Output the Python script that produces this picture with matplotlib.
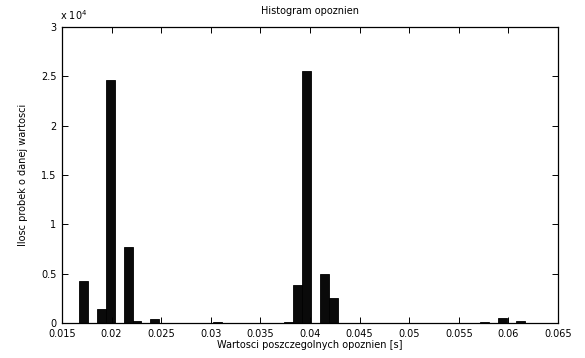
import matplotlib
matplotlib.use("Agg")
import matplotlib.pyplot as plt
from matplotlib.ticker import FuncFormatter

# Histogram of measured delays: 50 equal bins between the smallest and largest delay
bin_lo = 0.016714
bin_hi = 0.061639
counts = [4280, 0, 1420, 24650, 0, 7750, 180, 0, 370, 0,
          0, 0, 0, 0, 0, 100, 0, 40, 0, 0,
          0, 0, 0, 130, 3820, 25550, 0, 4970, 2500, 0,
          0, 0, 0, 40, 0, 0, 0, 0, 0, 0,
          0, 0, 0, 0, 0, 50, 0, 480, 0, 170]

x_ticks = [0.015, 0.02, 0.025, 0.03, 0.035, 0.04, 0.045, 0.05, 0.055, 0.06, 0.065]
x_tick_labels = ["0.015", "0.02", "0.025", "0.03", "0.035", "0.04",
                 "0.045", "0.05", "0.055", "0.06", "0.065"]
y_ticks = [0, 5000, 10000, 15000, 20000, 25000, 30000]

title = "Histogram opoznien"
x_label = "Wartosci poszczegolnych opoznien [s]"
y_label = "Ilosc probek o danej wartosci"

plt.rcParams["font.family"] = ["DejaVu Sans"]
fs = 7

fig = plt.figure(figsize=(5.85, 3.58), dpi=100)
ax = fig.add_axes([0.106, 0.0978, 0.848, 0.8268])

n = len(counts)
width = (bin_hi - bin_lo) / n
lefts = [bin_lo + i * width for i in range(n)]
ax.bar(lefts, counts, width=width, align="edge",
       color="#0a0a0a", edgecolor="#000000", linewidth=0.6)

ax.set_xlim(0.015, 0.065)
ax.set_ylim(0, 30000)
ax.set_xticks(x_ticks)
ax.set_xticklabels(x_tick_labels)
ax.set_yticks(y_ticks)
ax.yaxis.set_major_formatter(FuncFormatter(lambda v, p: f"{v / 1e4:g}"))

ax.tick_params(direction="in", length=4, width=0.7, labelsize=fs,
               top=True, right=True, pad=4, colors="black")
for s in ax.spines.values():
    s.set_linewidth(0.9)

ax.text(-0.005, 1.018, r"x 10$^4$", transform=ax.transAxes,
        fontsize=fs, ha="left", va="bottom")
ax.set_title(title, fontsize=fs, pad=9)
ax.set_xlabel(x_label, fontsize=fs, labelpad=1)
ax.set_ylabel(y_label, fontsize=fs, labelpad=9)

fig.savefig("out.png", dpi=100)
